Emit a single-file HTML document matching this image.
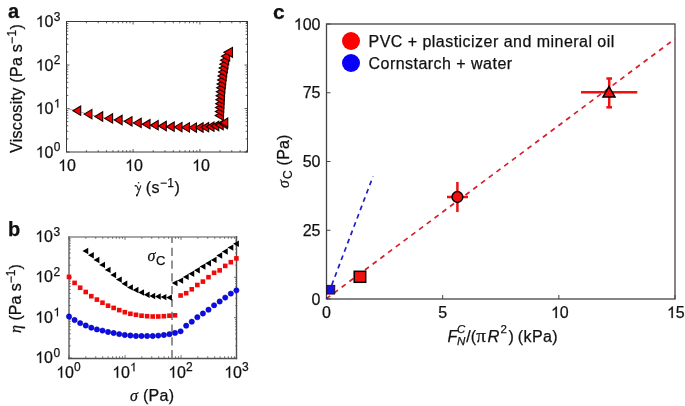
<!DOCTYPE html>
<html><head><meta charset="utf-8"><style>
html,body{margin:0;padding:0;background:#fff;}
svg{display:block;will-change:transform;}
svg{font-family:"Liberation Sans", sans-serif;fill:#111;} text{stroke:#111;stroke-width:0.25px;}
</style></head><body>
<svg width="685" height="406" viewBox="0 0 685 406">
<rect x="66.5" y="21.5" width="181.0" height="130.5" fill="none" stroke="#383838" stroke-width="1.0"/>
<line x1="66.5" y1="152.00" x2="69.5" y2="152.00" stroke="#333" stroke-width="0.8"/>
<line x1="247.5" y1="152.00" x2="244.5" y2="152.00" stroke="#333" stroke-width="0.8"/>
<line x1="66.5" y1="138.91" x2="68.3" y2="138.91" stroke="#333" stroke-width="0.8"/>
<line x1="247.5" y1="138.91" x2="245.7" y2="138.91" stroke="#333" stroke-width="0.8"/>
<line x1="66.5" y1="131.25" x2="68.3" y2="131.25" stroke="#333" stroke-width="0.8"/>
<line x1="247.5" y1="131.25" x2="245.7" y2="131.25" stroke="#333" stroke-width="0.8"/>
<line x1="66.5" y1="125.81" x2="68.3" y2="125.81" stroke="#333" stroke-width="0.8"/>
<line x1="247.5" y1="125.81" x2="245.7" y2="125.81" stroke="#333" stroke-width="0.8"/>
<line x1="66.5" y1="121.59" x2="68.3" y2="121.59" stroke="#333" stroke-width="0.8"/>
<line x1="247.5" y1="121.59" x2="245.7" y2="121.59" stroke="#333" stroke-width="0.8"/>
<line x1="66.5" y1="118.15" x2="68.3" y2="118.15" stroke="#333" stroke-width="0.8"/>
<line x1="247.5" y1="118.15" x2="245.7" y2="118.15" stroke="#333" stroke-width="0.8"/>
<line x1="66.5" y1="115.24" x2="68.3" y2="115.24" stroke="#333" stroke-width="0.8"/>
<line x1="247.5" y1="115.24" x2="245.7" y2="115.24" stroke="#333" stroke-width="0.8"/>
<line x1="66.5" y1="112.72" x2="68.3" y2="112.72" stroke="#333" stroke-width="0.8"/>
<line x1="247.5" y1="112.72" x2="245.7" y2="112.72" stroke="#333" stroke-width="0.8"/>
<line x1="66.5" y1="110.49" x2="68.3" y2="110.49" stroke="#333" stroke-width="0.8"/>
<line x1="247.5" y1="110.49" x2="245.7" y2="110.49" stroke="#333" stroke-width="0.8"/>
<line x1="66.5" y1="108.50" x2="69.5" y2="108.50" stroke="#333" stroke-width="0.8"/>
<line x1="247.5" y1="108.50" x2="244.5" y2="108.50" stroke="#333" stroke-width="0.8"/>
<line x1="66.5" y1="95.41" x2="68.3" y2="95.41" stroke="#333" stroke-width="0.8"/>
<line x1="247.5" y1="95.41" x2="245.7" y2="95.41" stroke="#333" stroke-width="0.8"/>
<line x1="66.5" y1="87.75" x2="68.3" y2="87.75" stroke="#333" stroke-width="0.8"/>
<line x1="247.5" y1="87.75" x2="245.7" y2="87.75" stroke="#333" stroke-width="0.8"/>
<line x1="66.5" y1="82.31" x2="68.3" y2="82.31" stroke="#333" stroke-width="0.8"/>
<line x1="247.5" y1="82.31" x2="245.7" y2="82.31" stroke="#333" stroke-width="0.8"/>
<line x1="66.5" y1="78.09" x2="68.3" y2="78.09" stroke="#333" stroke-width="0.8"/>
<line x1="247.5" y1="78.09" x2="245.7" y2="78.09" stroke="#333" stroke-width="0.8"/>
<line x1="66.5" y1="74.65" x2="68.3" y2="74.65" stroke="#333" stroke-width="0.8"/>
<line x1="247.5" y1="74.65" x2="245.7" y2="74.65" stroke="#333" stroke-width="0.8"/>
<line x1="66.5" y1="71.74" x2="68.3" y2="71.74" stroke="#333" stroke-width="0.8"/>
<line x1="247.5" y1="71.74" x2="245.7" y2="71.74" stroke="#333" stroke-width="0.8"/>
<line x1="66.5" y1="69.22" x2="68.3" y2="69.22" stroke="#333" stroke-width="0.8"/>
<line x1="247.5" y1="69.22" x2="245.7" y2="69.22" stroke="#333" stroke-width="0.8"/>
<line x1="66.5" y1="66.99" x2="68.3" y2="66.99" stroke="#333" stroke-width="0.8"/>
<line x1="247.5" y1="66.99" x2="245.7" y2="66.99" stroke="#333" stroke-width="0.8"/>
<line x1="66.5" y1="65.00" x2="69.5" y2="65.00" stroke="#333" stroke-width="0.8"/>
<line x1="247.5" y1="65.00" x2="244.5" y2="65.00" stroke="#333" stroke-width="0.8"/>
<line x1="66.5" y1="51.91" x2="68.3" y2="51.91" stroke="#333" stroke-width="0.8"/>
<line x1="247.5" y1="51.91" x2="245.7" y2="51.91" stroke="#333" stroke-width="0.8"/>
<line x1="66.5" y1="44.25" x2="68.3" y2="44.25" stroke="#333" stroke-width="0.8"/>
<line x1="247.5" y1="44.25" x2="245.7" y2="44.25" stroke="#333" stroke-width="0.8"/>
<line x1="66.5" y1="38.81" x2="68.3" y2="38.81" stroke="#333" stroke-width="0.8"/>
<line x1="247.5" y1="38.81" x2="245.7" y2="38.81" stroke="#333" stroke-width="0.8"/>
<line x1="66.5" y1="34.59" x2="68.3" y2="34.59" stroke="#333" stroke-width="0.8"/>
<line x1="247.5" y1="34.59" x2="245.7" y2="34.59" stroke="#333" stroke-width="0.8"/>
<line x1="66.5" y1="31.15" x2="68.3" y2="31.15" stroke="#333" stroke-width="0.8"/>
<line x1="247.5" y1="31.15" x2="245.7" y2="31.15" stroke="#333" stroke-width="0.8"/>
<line x1="66.5" y1="28.24" x2="68.3" y2="28.24" stroke="#333" stroke-width="0.8"/>
<line x1="247.5" y1="28.24" x2="245.7" y2="28.24" stroke="#333" stroke-width="0.8"/>
<line x1="66.5" y1="25.72" x2="68.3" y2="25.72" stroke="#333" stroke-width="0.8"/>
<line x1="247.5" y1="25.72" x2="245.7" y2="25.72" stroke="#333" stroke-width="0.8"/>
<line x1="66.5" y1="23.49" x2="68.3" y2="23.49" stroke="#333" stroke-width="0.8"/>
<line x1="247.5" y1="23.49" x2="245.7" y2="23.49" stroke="#333" stroke-width="0.8"/>
<line x1="86.41" y1="152" x2="86.41" y2="150.2" stroke="#333" stroke-width="0.8"/>
<line x1="86.41" y1="21.5" x2="86.41" y2="23.3" stroke="#333" stroke-width="0.8"/>
<line x1="98.17" y1="152" x2="98.17" y2="150.2" stroke="#333" stroke-width="0.8"/>
<line x1="98.17" y1="21.5" x2="98.17" y2="23.3" stroke="#333" stroke-width="0.8"/>
<line x1="106.52" y1="152" x2="106.52" y2="150.2" stroke="#333" stroke-width="0.8"/>
<line x1="106.52" y1="21.5" x2="106.52" y2="23.3" stroke="#333" stroke-width="0.8"/>
<line x1="112.99" y1="152" x2="112.99" y2="150.2" stroke="#333" stroke-width="0.8"/>
<line x1="112.99" y1="21.5" x2="112.99" y2="23.3" stroke="#333" stroke-width="0.8"/>
<line x1="118.28" y1="152" x2="118.28" y2="150.2" stroke="#333" stroke-width="0.8"/>
<line x1="118.28" y1="21.5" x2="118.28" y2="23.3" stroke="#333" stroke-width="0.8"/>
<line x1="122.75" y1="152" x2="122.75" y2="150.2" stroke="#333" stroke-width="0.8"/>
<line x1="122.75" y1="21.5" x2="122.75" y2="23.3" stroke="#333" stroke-width="0.8"/>
<line x1="126.63" y1="152" x2="126.63" y2="150.2" stroke="#333" stroke-width="0.8"/>
<line x1="126.63" y1="21.5" x2="126.63" y2="23.3" stroke="#333" stroke-width="0.8"/>
<line x1="130.04" y1="152" x2="130.04" y2="150.2" stroke="#333" stroke-width="0.8"/>
<line x1="130.04" y1="21.5" x2="130.04" y2="23.3" stroke="#333" stroke-width="0.8"/>
<line x1="133.10" y1="152" x2="133.10" y2="149" stroke="#333" stroke-width="0.8"/>
<line x1="133.10" y1="21.5" x2="133.10" y2="24.5" stroke="#333" stroke-width="0.8"/>
<line x1="153.21" y1="152" x2="153.21" y2="150.2" stroke="#333" stroke-width="0.8"/>
<line x1="153.21" y1="21.5" x2="153.21" y2="23.3" stroke="#333" stroke-width="0.8"/>
<line x1="164.97" y1="152" x2="164.97" y2="150.2" stroke="#333" stroke-width="0.8"/>
<line x1="164.97" y1="21.5" x2="164.97" y2="23.3" stroke="#333" stroke-width="0.8"/>
<line x1="173.32" y1="152" x2="173.32" y2="150.2" stroke="#333" stroke-width="0.8"/>
<line x1="173.32" y1="21.5" x2="173.32" y2="23.3" stroke="#333" stroke-width="0.8"/>
<line x1="179.79" y1="152" x2="179.79" y2="150.2" stroke="#333" stroke-width="0.8"/>
<line x1="179.79" y1="21.5" x2="179.79" y2="23.3" stroke="#333" stroke-width="0.8"/>
<line x1="185.08" y1="152" x2="185.08" y2="150.2" stroke="#333" stroke-width="0.8"/>
<line x1="185.08" y1="21.5" x2="185.08" y2="23.3" stroke="#333" stroke-width="0.8"/>
<line x1="189.55" y1="152" x2="189.55" y2="150.2" stroke="#333" stroke-width="0.8"/>
<line x1="189.55" y1="21.5" x2="189.55" y2="23.3" stroke="#333" stroke-width="0.8"/>
<line x1="193.43" y1="152" x2="193.43" y2="150.2" stroke="#333" stroke-width="0.8"/>
<line x1="193.43" y1="21.5" x2="193.43" y2="23.3" stroke="#333" stroke-width="0.8"/>
<line x1="196.84" y1="152" x2="196.84" y2="150.2" stroke="#333" stroke-width="0.8"/>
<line x1="196.84" y1="21.5" x2="196.84" y2="23.3" stroke="#333" stroke-width="0.8"/>
<line x1="199.90" y1="152" x2="199.90" y2="149" stroke="#333" stroke-width="0.8"/>
<line x1="199.90" y1="21.5" x2="199.90" y2="24.5" stroke="#333" stroke-width="0.8"/>
<line x1="220.01" y1="152" x2="220.01" y2="150.2" stroke="#333" stroke-width="0.8"/>
<line x1="220.01" y1="21.5" x2="220.01" y2="23.3" stroke="#333" stroke-width="0.8"/>
<line x1="231.77" y1="152" x2="231.77" y2="150.2" stroke="#333" stroke-width="0.8"/>
<line x1="231.77" y1="21.5" x2="231.77" y2="23.3" stroke="#333" stroke-width="0.8"/>
<line x1="240.12" y1="152" x2="240.12" y2="150.2" stroke="#333" stroke-width="0.8"/>
<line x1="240.12" y1="21.5" x2="240.12" y2="23.3" stroke="#333" stroke-width="0.8"/>
<line x1="246.59" y1="152" x2="246.59" y2="150.2" stroke="#333" stroke-width="0.8"/>
<line x1="246.59" y1="21.5" x2="246.59" y2="23.3" stroke="#333" stroke-width="0.8"/>
<path d="M41.67,157.60L40.26,157.60L40.26,148.64C39.93,148.96 39.48,149.30 38.92,149.62C38.36,149.95 37.86,150.19 37.45,150.35L37.45,148.99C38.22,148.64 38.89,148.21 39.46,147.71C40.04,147.20 40.46,146.69 40.70,146.14L41.67,146.14Z" fill="#111" stroke="#111" stroke-width="0.2"/>
<text x="44.60" y="157.60" font-size="16">0</text>
<text x="53.80" y="151.00" font-size="12">0</text>
<path d="M41.67,114.10L40.26,114.10L40.26,105.14C39.93,105.46 39.48,105.80 38.92,106.12C38.36,106.45 37.86,106.69 37.45,106.85L37.45,105.49C38.22,105.14 38.89,104.71 39.46,104.21C40.04,103.70 40.46,103.19 40.70,102.64L41.67,102.64Z" fill="#111" stroke="#111" stroke-width="0.2"/>
<text x="44.60" y="114.10" font-size="16">0</text>
<path d="M58.28,107.50L57.22,107.50L57.22,100.78C56.97,101.02 56.63,101.27 56.21,101.51C55.79,101.76 55.42,101.94 55.11,102.06L55.11,101.04C55.68,100.78 56.19,100.46 56.62,100.08C57.05,99.70 57.36,99.32 57.54,98.91L58.28,98.91Z" fill="#111" stroke="#111" stroke-width="0.2"/>
<path d="M41.67,70.60L40.26,70.60L40.26,61.64C39.93,61.96 39.48,62.30 38.92,62.62C38.36,62.95 37.86,63.19 37.45,63.35L37.45,61.99C38.22,61.64 38.89,61.21 39.46,60.71C40.04,60.20 40.46,59.69 40.70,59.14L41.67,59.14Z" fill="#111" stroke="#111" stroke-width="0.2"/>
<text x="44.60" y="70.60" font-size="16">0</text>
<text x="53.80" y="64.00" font-size="12">2</text>
<path d="M41.67,27.10L40.26,27.10L40.26,18.14C39.93,18.46 39.48,18.80 38.92,19.12C38.36,19.45 37.86,19.69 37.45,19.85L37.45,18.49C38.22,18.14 38.89,17.71 39.46,17.21C40.04,16.70 40.46,16.19 40.70,15.64L41.67,15.64Z" fill="#111" stroke="#111" stroke-width="0.2"/>
<text x="44.60" y="27.10" font-size="16">0</text>
<text x="53.80" y="20.50" font-size="12">3</text>
<path d="M64.07,171.00L62.66,171.00L62.66,162.04C62.33,162.36 61.88,162.70 61.32,163.02C60.76,163.35 60.26,163.59 59.85,163.75L59.85,162.39C60.61,162.04 61.29,161.61 61.86,161.11C62.44,160.60 62.85,160.09 63.09,159.54L64.07,159.54Z" fill="#111" stroke="#111" stroke-width="0.2"/>
<text x="67.00" y="171.00" font-size="16">0</text>
<path d="M131.07,171.00L129.66,171.00L129.66,162.04C129.33,162.36 128.88,162.70 128.32,163.02C127.76,163.35 127.26,163.59 126.85,163.75L126.85,162.39C127.61,162.04 128.29,161.61 128.86,161.11C129.44,160.60 129.85,160.09 130.09,159.54L131.07,159.54Z" fill="#111" stroke="#111" stroke-width="0.2"/>
<text x="134.00" y="171.00" font-size="16">0</text>
<path d="M198.07,171.00L196.66,171.00L196.66,162.04C196.33,162.36 195.88,162.70 195.32,163.02C194.76,163.35 194.26,163.59 193.85,163.75L193.85,162.39C194.61,162.04 195.29,161.61 195.86,161.11C196.44,160.60 196.85,160.09 197.09,159.54L198.07,159.54Z" fill="#111" stroke="#111" stroke-width="0.2"/>
<text x="201.00" y="171.00" font-size="16">0</text>
<text x="8" y="18" font-size="20" font-weight="bold">a</text>
<text transform="translate(21.5,153) rotate(-90)" font-size="16" letter-spacing="0.3">Viscosity (Pa s<tspan font-size="12" dy="-6">−1</tspan><tspan dy="6">)</tspan></text>
<path d="M134.9,186.4 Q135.6,185.2 136.6,185.9 Q137.6,186.8 138.4,190.0" fill="none" stroke="#111" stroke-width="1.15"/>
<path d="M140.9,185.3 Q139.6,189.5 137.2,195.2" fill="none" stroke="#111" stroke-width="1.05"/>
<ellipse cx="136.9" cy="195.3" rx="0.8" ry="1.2" fill="#111"/>
<circle cx="138.6" cy="182.8" r="0.8" fill="#111"/>
<text x="145.8" y="193.3" font-size="16" letter-spacing="0.4">(s<tspan font-size="12" dy="-6">−1</tspan><tspan dy="6">)</tspan></text>
<polyline points="66.5,108.5 76.2,110.7 87.3,114.1 98.2,116.5 108.0,118.4 117.5,120.0 127.5,121.3 136.7,122.9 145.4,124.2 153.7,125.2 161.8,126.0 169.7,126.7 177.4,127.1 184.9,127.4 191.9,127.6 198.6,127.5 204.2,127.2 209.4,126.7 214.2,126.0 218.7,125.0 222.8,124.0" fill="none" stroke="#888" stroke-width="0.7"/>
<path d="M72.90,110.70 L80.70,106.00 L80.70,115.40Z" fill="#f20000" stroke="#1a0000" stroke-width="1.1"/>
<path d="M84.10,114.10 L91.90,109.40 L91.90,118.80Z" fill="#f20000" stroke="#1a0000" stroke-width="1.1"/>
<path d="M94.90,116.50 L102.70,111.80 L102.70,121.20Z" fill="#f20000" stroke="#1a0000" stroke-width="1.1"/>
<path d="M104.80,118.40 L112.60,113.70 L112.60,123.10Z" fill="#f20000" stroke="#1a0000" stroke-width="1.1"/>
<path d="M114.30,120.00 L122.10,115.30 L122.10,124.70Z" fill="#f20000" stroke="#1a0000" stroke-width="1.1"/>
<path d="M124.20,121.30 L132.00,116.60 L132.00,126.00Z" fill="#f20000" stroke="#1a0000" stroke-width="1.1"/>
<path d="M133.40,122.90 L141.20,118.20 L141.20,127.60Z" fill="#f20000" stroke="#1a0000" stroke-width="1.1"/>
<path d="M142.20,124.20 L150.00,119.50 L150.00,128.90Z" fill="#f20000" stroke="#1a0000" stroke-width="1.1"/>
<path d="M150.40,125.20 L158.20,120.50 L158.20,129.90Z" fill="#f20000" stroke="#1a0000" stroke-width="1.1"/>
<path d="M158.50,126.00 L166.30,121.30 L166.30,130.70Z" fill="#f20000" stroke="#1a0000" stroke-width="1.1"/>
<path d="M166.40,126.70 L174.20,122.00 L174.20,131.40Z" fill="#f20000" stroke="#1a0000" stroke-width="1.1"/>
<path d="M174.20,127.10 L182.00,122.40 L182.00,131.80Z" fill="#f20000" stroke="#1a0000" stroke-width="1.1"/>
<path d="M181.70,127.40 L189.50,122.70 L189.50,132.10Z" fill="#f20000" stroke="#1a0000" stroke-width="1.1"/>
<path d="M188.70,127.60 L196.50,122.90 L196.50,132.30Z" fill="#f20000" stroke="#1a0000" stroke-width="1.1"/>
<path d="M195.30,127.50 L203.10,122.80 L203.10,132.20Z" fill="#f20000" stroke="#1a0000" stroke-width="1.1"/>
<path d="M200.90,127.20 L208.70,122.50 L208.70,131.90Z" fill="#f20000" stroke="#1a0000" stroke-width="1.1"/>
<path d="M206.20,126.70 L214.00,122.00 L214.00,131.40Z" fill="#f20000" stroke="#1a0000" stroke-width="1.1"/>
<path d="M211.00,126.00 L218.80,121.30 L218.80,130.70Z" fill="#f20000" stroke="#1a0000" stroke-width="1.1"/>
<path d="M215.40,125.00 L223.20,120.30 L223.20,129.70Z" fill="#f20000" stroke="#1a0000" stroke-width="1.1"/>
<path d="M219.60,124.00 L227.40,119.30 L227.40,128.70Z" fill="#f20000" stroke="#1a0000" stroke-width="1.1"/>
<path d="M215.20,115.50 L223.40,110.80 L223.40,120.20Z" fill="#f20000" stroke="#1a0000" stroke-width="1.1"/>
<path d="M215.35,111.55 L223.55,106.85 L223.55,116.25Z" fill="#f20000" stroke="#1a0000" stroke-width="1.1"/>
<path d="M215.50,107.60 L223.70,102.90 L223.70,112.30Z" fill="#f20000" stroke="#1a0000" stroke-width="1.1"/>
<path d="M215.66,103.65 L223.86,98.95 L223.86,108.35Z" fill="#f20000" stroke="#1a0000" stroke-width="1.1"/>
<path d="M215.82,99.70 L224.02,95.00 L224.02,104.40Z" fill="#f20000" stroke="#1a0000" stroke-width="1.1"/>
<path d="M216.09,95.75 L224.29,91.05 L224.29,100.45Z" fill="#f20000" stroke="#1a0000" stroke-width="1.1"/>
<path d="M216.37,91.80 L224.57,87.10 L224.57,96.50Z" fill="#f20000" stroke="#1a0000" stroke-width="1.1"/>
<path d="M216.64,87.85 L224.84,83.15 L224.84,92.55Z" fill="#f20000" stroke="#1a0000" stroke-width="1.1"/>
<path d="M217.06,83.90 L225.26,79.20 L225.26,88.60Z" fill="#f20000" stroke="#1a0000" stroke-width="1.1"/>
<path d="M217.52,79.95 L225.72,75.25 L225.72,84.65Z" fill="#f20000" stroke="#1a0000" stroke-width="1.1"/>
<path d="M217.98,76.00 L226.18,71.30 L226.18,80.70Z" fill="#f20000" stroke="#1a0000" stroke-width="1.1"/>
<path d="M218.51,72.05 L226.71,67.35 L226.71,76.75Z" fill="#f20000" stroke="#1a0000" stroke-width="1.1"/>
<path d="M219.12,68.10 L227.32,63.40 L227.32,72.80Z" fill="#f20000" stroke="#1a0000" stroke-width="1.1"/>
<path d="M219.79,64.15 L227.99,59.45 L227.99,68.85Z" fill="#f20000" stroke="#1a0000" stroke-width="1.1"/>
<path d="M220.47,60.20 L228.67,55.50 L228.67,64.90Z" fill="#f20000" stroke="#1a0000" stroke-width="1.1"/>
<path d="M221.48,56.25 L229.68,51.55 L229.68,60.95Z" fill="#f20000" stroke="#1a0000" stroke-width="1.1"/>
<path d="M223.90,52.30 L232.50,47.40 L232.50,57.20Z" fill="#f20000" stroke="#1a0000" stroke-width="1.1"/>
<path d="M220.25,122.70 L227.75,118.10 L227.75,127.30Z" fill="#f20000" stroke="#1a0000" stroke-width="1.1"/>
<line x1="69" y1="236.1" x2="69" y2="359.2" stroke="#8a8a8a" stroke-width="1.9"/>
<line x1="68" y1="236.9" x2="237.2" y2="236.9" stroke="#8a8a8a" stroke-width="1.5"/>
<line x1="236.5" y1="236.1" x2="236.5" y2="359.2" stroke="#505050" stroke-width="1.4"/>
<line x1="68" y1="358.5" x2="237.2" y2="358.5" stroke="#505050" stroke-width="1.4"/>
<line x1="69.00" y1="358.0" x2="69.00" y2="355.0" stroke="#555" stroke-width="0.8"/>
<line x1="69.00" y1="237.0" x2="69.00" y2="240.0" stroke="#555" stroke-width="0.8"/>
<line x1="69.0" y1="358.00" x2="72.0" y2="358.00" stroke="#555" stroke-width="0.8"/>
<line x1="237.0" y1="358.00" x2="234.0" y2="358.00" stroke="#555" stroke-width="0.8"/>
<line x1="85.86" y1="358.0" x2="85.86" y2="356.2" stroke="#555" stroke-width="0.8"/>
<line x1="85.86" y1="237.0" x2="85.86" y2="238.8" stroke="#555" stroke-width="0.8"/>
<line x1="69.0" y1="345.86" x2="70.8" y2="345.86" stroke="#555" stroke-width="0.8"/>
<line x1="237.0" y1="345.86" x2="235.2" y2="345.86" stroke="#555" stroke-width="0.8"/>
<line x1="95.72" y1="358.0" x2="95.72" y2="356.2" stroke="#555" stroke-width="0.8"/>
<line x1="95.72" y1="237.0" x2="95.72" y2="238.8" stroke="#555" stroke-width="0.8"/>
<line x1="69.0" y1="338.76" x2="70.8" y2="338.76" stroke="#555" stroke-width="0.8"/>
<line x1="237.0" y1="338.76" x2="235.2" y2="338.76" stroke="#555" stroke-width="0.8"/>
<line x1="102.72" y1="358.0" x2="102.72" y2="356.2" stroke="#555" stroke-width="0.8"/>
<line x1="102.72" y1="237.0" x2="102.72" y2="238.8" stroke="#555" stroke-width="0.8"/>
<line x1="69.0" y1="333.72" x2="70.8" y2="333.72" stroke="#555" stroke-width="0.8"/>
<line x1="237.0" y1="333.72" x2="235.2" y2="333.72" stroke="#555" stroke-width="0.8"/>
<line x1="108.14" y1="358.0" x2="108.14" y2="356.2" stroke="#555" stroke-width="0.8"/>
<line x1="108.14" y1="237.0" x2="108.14" y2="238.8" stroke="#555" stroke-width="0.8"/>
<line x1="69.0" y1="329.81" x2="70.8" y2="329.81" stroke="#555" stroke-width="0.8"/>
<line x1="237.0" y1="329.81" x2="235.2" y2="329.81" stroke="#555" stroke-width="0.8"/>
<line x1="112.58" y1="358.0" x2="112.58" y2="356.2" stroke="#555" stroke-width="0.8"/>
<line x1="112.58" y1="237.0" x2="112.58" y2="238.8" stroke="#555" stroke-width="0.8"/>
<line x1="69.0" y1="326.61" x2="70.8" y2="326.61" stroke="#555" stroke-width="0.8"/>
<line x1="237.0" y1="326.61" x2="235.2" y2="326.61" stroke="#555" stroke-width="0.8"/>
<line x1="116.33" y1="358.0" x2="116.33" y2="356.2" stroke="#555" stroke-width="0.8"/>
<line x1="116.33" y1="237.0" x2="116.33" y2="238.8" stroke="#555" stroke-width="0.8"/>
<line x1="69.0" y1="323.91" x2="70.8" y2="323.91" stroke="#555" stroke-width="0.8"/>
<line x1="237.0" y1="323.91" x2="235.2" y2="323.91" stroke="#555" stroke-width="0.8"/>
<line x1="119.57" y1="358.0" x2="119.57" y2="356.2" stroke="#555" stroke-width="0.8"/>
<line x1="119.57" y1="237.0" x2="119.57" y2="238.8" stroke="#555" stroke-width="0.8"/>
<line x1="69.0" y1="321.58" x2="70.8" y2="321.58" stroke="#555" stroke-width="0.8"/>
<line x1="237.0" y1="321.58" x2="235.2" y2="321.58" stroke="#555" stroke-width="0.8"/>
<line x1="122.44" y1="358.0" x2="122.44" y2="356.2" stroke="#555" stroke-width="0.8"/>
<line x1="122.44" y1="237.0" x2="122.44" y2="238.8" stroke="#555" stroke-width="0.8"/>
<line x1="69.0" y1="319.51" x2="70.8" y2="319.51" stroke="#555" stroke-width="0.8"/>
<line x1="237.0" y1="319.51" x2="235.2" y2="319.51" stroke="#555" stroke-width="0.8"/>
<line x1="125.00" y1="358.0" x2="125.00" y2="355.0" stroke="#555" stroke-width="0.8"/>
<line x1="125.00" y1="237.0" x2="125.00" y2="240.0" stroke="#555" stroke-width="0.8"/>
<line x1="69.0" y1="317.67" x2="72.0" y2="317.67" stroke="#555" stroke-width="0.8"/>
<line x1="237.0" y1="317.67" x2="234.0" y2="317.67" stroke="#555" stroke-width="0.8"/>
<line x1="141.86" y1="358.0" x2="141.86" y2="356.2" stroke="#555" stroke-width="0.8"/>
<line x1="141.86" y1="237.0" x2="141.86" y2="238.8" stroke="#555" stroke-width="0.8"/>
<line x1="69.0" y1="305.53" x2="70.8" y2="305.53" stroke="#555" stroke-width="0.8"/>
<line x1="237.0" y1="305.53" x2="235.2" y2="305.53" stroke="#555" stroke-width="0.8"/>
<line x1="151.72" y1="358.0" x2="151.72" y2="356.2" stroke="#555" stroke-width="0.8"/>
<line x1="151.72" y1="237.0" x2="151.72" y2="238.8" stroke="#555" stroke-width="0.8"/>
<line x1="69.0" y1="298.42" x2="70.8" y2="298.42" stroke="#555" stroke-width="0.8"/>
<line x1="237.0" y1="298.42" x2="235.2" y2="298.42" stroke="#555" stroke-width="0.8"/>
<line x1="158.72" y1="358.0" x2="158.72" y2="356.2" stroke="#555" stroke-width="0.8"/>
<line x1="158.72" y1="237.0" x2="158.72" y2="238.8" stroke="#555" stroke-width="0.8"/>
<line x1="69.0" y1="293.38" x2="70.8" y2="293.38" stroke="#555" stroke-width="0.8"/>
<line x1="237.0" y1="293.38" x2="235.2" y2="293.38" stroke="#555" stroke-width="0.8"/>
<line x1="164.14" y1="358.0" x2="164.14" y2="356.2" stroke="#555" stroke-width="0.8"/>
<line x1="164.14" y1="237.0" x2="164.14" y2="238.8" stroke="#555" stroke-width="0.8"/>
<line x1="69.0" y1="289.47" x2="70.8" y2="289.47" stroke="#555" stroke-width="0.8"/>
<line x1="237.0" y1="289.47" x2="235.2" y2="289.47" stroke="#555" stroke-width="0.8"/>
<line x1="168.58" y1="358.0" x2="168.58" y2="356.2" stroke="#555" stroke-width="0.8"/>
<line x1="168.58" y1="237.0" x2="168.58" y2="238.8" stroke="#555" stroke-width="0.8"/>
<line x1="69.0" y1="286.28" x2="70.8" y2="286.28" stroke="#555" stroke-width="0.8"/>
<line x1="237.0" y1="286.28" x2="235.2" y2="286.28" stroke="#555" stroke-width="0.8"/>
<line x1="172.33" y1="358.0" x2="172.33" y2="356.2" stroke="#555" stroke-width="0.8"/>
<line x1="172.33" y1="237.0" x2="172.33" y2="238.8" stroke="#555" stroke-width="0.8"/>
<line x1="69.0" y1="283.58" x2="70.8" y2="283.58" stroke="#555" stroke-width="0.8"/>
<line x1="237.0" y1="283.58" x2="235.2" y2="283.58" stroke="#555" stroke-width="0.8"/>
<line x1="175.57" y1="358.0" x2="175.57" y2="356.2" stroke="#555" stroke-width="0.8"/>
<line x1="175.57" y1="237.0" x2="175.57" y2="238.8" stroke="#555" stroke-width="0.8"/>
<line x1="69.0" y1="281.24" x2="70.8" y2="281.24" stroke="#555" stroke-width="0.8"/>
<line x1="237.0" y1="281.24" x2="235.2" y2="281.24" stroke="#555" stroke-width="0.8"/>
<line x1="178.44" y1="358.0" x2="178.44" y2="356.2" stroke="#555" stroke-width="0.8"/>
<line x1="178.44" y1="237.0" x2="178.44" y2="238.8" stroke="#555" stroke-width="0.8"/>
<line x1="69.0" y1="279.18" x2="70.8" y2="279.18" stroke="#555" stroke-width="0.8"/>
<line x1="237.0" y1="279.18" x2="235.2" y2="279.18" stroke="#555" stroke-width="0.8"/>
<line x1="181.00" y1="358.0" x2="181.00" y2="355.0" stroke="#555" stroke-width="0.8"/>
<line x1="181.00" y1="237.0" x2="181.00" y2="240.0" stroke="#555" stroke-width="0.8"/>
<line x1="69.0" y1="277.33" x2="72.0" y2="277.33" stroke="#555" stroke-width="0.8"/>
<line x1="237.0" y1="277.33" x2="234.0" y2="277.33" stroke="#555" stroke-width="0.8"/>
<line x1="197.86" y1="358.0" x2="197.86" y2="356.2" stroke="#555" stroke-width="0.8"/>
<line x1="197.86" y1="237.0" x2="197.86" y2="238.8" stroke="#555" stroke-width="0.8"/>
<line x1="69.0" y1="265.19" x2="70.8" y2="265.19" stroke="#555" stroke-width="0.8"/>
<line x1="237.0" y1="265.19" x2="235.2" y2="265.19" stroke="#555" stroke-width="0.8"/>
<line x1="207.72" y1="358.0" x2="207.72" y2="356.2" stroke="#555" stroke-width="0.8"/>
<line x1="207.72" y1="237.0" x2="207.72" y2="238.8" stroke="#555" stroke-width="0.8"/>
<line x1="69.0" y1="258.09" x2="70.8" y2="258.09" stroke="#555" stroke-width="0.8"/>
<line x1="237.0" y1="258.09" x2="235.2" y2="258.09" stroke="#555" stroke-width="0.8"/>
<line x1="214.72" y1="358.0" x2="214.72" y2="356.2" stroke="#555" stroke-width="0.8"/>
<line x1="214.72" y1="237.0" x2="214.72" y2="238.8" stroke="#555" stroke-width="0.8"/>
<line x1="69.0" y1="253.05" x2="70.8" y2="253.05" stroke="#555" stroke-width="0.8"/>
<line x1="237.0" y1="253.05" x2="235.2" y2="253.05" stroke="#555" stroke-width="0.8"/>
<line x1="220.14" y1="358.0" x2="220.14" y2="356.2" stroke="#555" stroke-width="0.8"/>
<line x1="220.14" y1="237.0" x2="220.14" y2="238.8" stroke="#555" stroke-width="0.8"/>
<line x1="69.0" y1="249.14" x2="70.8" y2="249.14" stroke="#555" stroke-width="0.8"/>
<line x1="237.0" y1="249.14" x2="235.2" y2="249.14" stroke="#555" stroke-width="0.8"/>
<line x1="224.58" y1="358.0" x2="224.58" y2="356.2" stroke="#555" stroke-width="0.8"/>
<line x1="224.58" y1="237.0" x2="224.58" y2="238.8" stroke="#555" stroke-width="0.8"/>
<line x1="69.0" y1="245.95" x2="70.8" y2="245.95" stroke="#555" stroke-width="0.8"/>
<line x1="237.0" y1="245.95" x2="235.2" y2="245.95" stroke="#555" stroke-width="0.8"/>
<line x1="228.33" y1="358.0" x2="228.33" y2="356.2" stroke="#555" stroke-width="0.8"/>
<line x1="228.33" y1="237.0" x2="228.33" y2="238.8" stroke="#555" stroke-width="0.8"/>
<line x1="69.0" y1="243.25" x2="70.8" y2="243.25" stroke="#555" stroke-width="0.8"/>
<line x1="237.0" y1="243.25" x2="235.2" y2="243.25" stroke="#555" stroke-width="0.8"/>
<line x1="231.57" y1="358.0" x2="231.57" y2="356.2" stroke="#555" stroke-width="0.8"/>
<line x1="231.57" y1="237.0" x2="231.57" y2="238.8" stroke="#555" stroke-width="0.8"/>
<line x1="69.0" y1="240.91" x2="70.8" y2="240.91" stroke="#555" stroke-width="0.8"/>
<line x1="237.0" y1="240.91" x2="235.2" y2="240.91" stroke="#555" stroke-width="0.8"/>
<line x1="234.44" y1="358.0" x2="234.44" y2="356.2" stroke="#555" stroke-width="0.8"/>
<line x1="234.44" y1="237.0" x2="234.44" y2="238.8" stroke="#555" stroke-width="0.8"/>
<line x1="69.0" y1="238.85" x2="70.8" y2="238.85" stroke="#555" stroke-width="0.8"/>
<line x1="237.0" y1="238.85" x2="235.2" y2="238.85" stroke="#555" stroke-width="0.8"/>
<path d="M41.17,363.00L39.76,363.00L39.76,354.04C39.43,354.36 38.98,354.70 38.42,355.02C37.86,355.35 37.36,355.59 36.95,355.75L36.95,354.39C37.72,354.04 38.39,353.61 38.96,353.11C39.54,352.60 39.96,352.09 40.20,351.54L41.17,351.54Z" fill="#111" stroke="#111" stroke-width="0.2"/>
<text x="44.10" y="363.00" font-size="16">0</text>
<text x="53.50" y="356.60" font-size="12">0</text>
<path d="M62.17,377.80L60.76,377.80L60.76,368.84C60.42,369.16 59.98,369.50 59.42,369.82C58.86,370.15 58.36,370.39 57.94,370.55L57.94,369.19C58.71,368.84 59.38,368.41 59.96,367.91C60.54,367.40 60.95,366.89 61.19,366.34L62.17,366.34Z" fill="#111" stroke="#111" stroke-width="0.2"/>
<text x="65.10" y="377.80" font-size="16">0</text>
<text x="74.00" y="371.30" font-size="12">0</text>
<path d="M41.17,322.67L39.76,322.67L39.76,313.71C39.43,314.03 38.98,314.36 38.42,314.68C37.86,315.02 37.36,315.26 36.95,315.42L36.95,314.06C37.72,313.71 38.39,313.27 38.96,312.78C39.54,312.27 39.96,311.75 40.20,311.21L41.17,311.21Z" fill="#111" stroke="#111" stroke-width="0.2"/>
<text x="44.10" y="322.67" font-size="16">0</text>
<path d="M57.98,316.27L56.92,316.27L56.92,309.55C56.67,309.79 56.33,310.04 55.91,310.28C55.49,310.53 55.12,310.71 54.81,310.83L54.81,309.81C55.38,309.55 55.89,309.22 56.32,308.85C56.75,308.47 57.06,308.08 57.24,307.67L57.98,307.67Z" fill="#111" stroke="#111" stroke-width="0.2"/>
<path d="M118.17,377.80L116.76,377.80L116.76,368.84C116.42,369.16 115.98,369.50 115.42,369.82C114.86,370.15 114.36,370.39 113.94,370.55L113.94,369.19C114.71,368.84 115.38,368.41 115.96,367.91C116.54,367.40 116.95,366.89 117.19,366.34L118.17,366.34Z" fill="#111" stroke="#111" stroke-width="0.2"/>
<text x="121.10" y="377.80" font-size="16">0</text>
<path d="M134.47,371.30L133.42,371.30L133.42,364.58C133.16,364.82 132.83,365.07 132.41,365.31C131.99,365.56 131.62,365.74 131.30,365.86L131.30,364.84C131.88,364.58 132.38,364.26 132.82,363.88C133.25,363.50 133.56,363.12 133.74,362.71L134.47,362.71Z" fill="#111" stroke="#111" stroke-width="0.2"/>
<path d="M41.17,282.33L39.76,282.33L39.76,273.37C39.43,273.69 38.98,274.03 38.42,274.35C37.86,274.69 37.36,274.93 36.95,275.09L36.95,273.73C37.72,273.37 38.39,272.94 38.96,272.45C39.54,271.93 39.96,271.42 40.20,270.88L41.17,270.88Z" fill="#111" stroke="#111" stroke-width="0.2"/>
<text x="44.10" y="282.33" font-size="16">0</text>
<text x="53.50" y="275.93" font-size="12">2</text>
<path d="M174.17,377.80L172.76,377.80L172.76,368.84C172.42,369.16 171.98,369.50 171.42,369.82C170.86,370.15 170.36,370.39 169.94,370.55L169.94,369.19C170.71,368.84 171.38,368.41 171.96,367.91C172.54,367.40 172.95,366.89 173.19,366.34L174.17,366.34Z" fill="#111" stroke="#111" stroke-width="0.2"/>
<text x="177.10" y="377.80" font-size="16">0</text>
<text x="186.00" y="371.30" font-size="12">2</text>
<path d="M41.17,242.00L39.76,242.00L39.76,233.04C39.43,233.36 38.98,233.70 38.42,234.02C37.86,234.35 37.36,234.59 36.95,234.75L36.95,233.39C37.72,233.04 38.39,232.61 38.96,232.11C39.54,231.60 39.96,231.09 40.20,230.54L41.17,230.54Z" fill="#111" stroke="#111" stroke-width="0.2"/>
<text x="44.10" y="242.00" font-size="16">0</text>
<text x="53.50" y="235.60" font-size="12">3</text>
<path d="M230.17,377.80L228.76,377.80L228.76,368.84C228.42,369.16 227.98,369.50 227.42,369.82C226.86,370.15 226.36,370.39 225.94,370.55L225.94,369.19C226.71,368.84 227.38,368.41 227.96,367.91C228.54,367.40 228.95,366.89 229.19,366.34L230.17,366.34Z" fill="#111" stroke="#111" stroke-width="0.2"/>
<text x="233.10" y="377.80" font-size="16">0</text>
<text x="242.00" y="371.30" font-size="12">3</text>
<text x="8" y="235.5" font-size="20" font-weight="bold">b</text>
<text transform="translate(21,333) rotate(-90)" font-size="16"><tspan font-family='"Liberation Serif", serif' font-style="italic">η</tspan> (Pa s<tspan font-size="12" dy="-6">−1</tspan><tspan dy="6">)</tspan></text>
<text x="130" y="400.8" font-size="16" letter-spacing="0.3"><tspan font-family='"Liberation Serif", serif' font-style="italic">σ</tspan> (Pa)</text>
<line x1="172" y1="237.0" x2="172" y2="358.0" stroke="#888" stroke-width="1.8" stroke-dasharray="8.2,4.6" stroke-dashoffset="2.1"/>
<text x="147.5" y="260.5" font-size="16" font-family='"Liberation Serif", serif' font-style="italic">σ</text>
<text x="156" y="265" font-size="13">C</text>
<circle cx="69.00" cy="316.5" r="2.65" fill="#0c0ce6" stroke="#0000a8" stroke-width="0.5"/>
<circle cx="74.58" cy="320" r="2.65" fill="#0c0ce6" stroke="#0000a8" stroke-width="0.5"/>
<circle cx="80.16" cy="323.1" r="2.65" fill="#0c0ce6" stroke="#0000a8" stroke-width="0.5"/>
<circle cx="85.74" cy="325.5" r="2.65" fill="#0c0ce6" stroke="#0000a8" stroke-width="0.5"/>
<circle cx="91.32" cy="327.7" r="2.65" fill="#0c0ce6" stroke="#0000a8" stroke-width="0.5"/>
<circle cx="96.90" cy="329.4" r="2.65" fill="#0c0ce6" stroke="#0000a8" stroke-width="0.5"/>
<circle cx="102.48" cy="330.6" r="2.65" fill="#0c0ce6" stroke="#0000a8" stroke-width="0.5"/>
<circle cx="108.06" cy="332" r="2.65" fill="#0c0ce6" stroke="#0000a8" stroke-width="0.5"/>
<circle cx="113.64" cy="333" r="2.65" fill="#0c0ce6" stroke="#0000a8" stroke-width="0.5"/>
<circle cx="119.22" cy="334.1" r="2.65" fill="#0c0ce6" stroke="#0000a8" stroke-width="0.5"/>
<circle cx="124.80" cy="335" r="2.65" fill="#0c0ce6" stroke="#0000a8" stroke-width="0.5"/>
<circle cx="130.38" cy="335.5" r="2.65" fill="#0c0ce6" stroke="#0000a8" stroke-width="0.5"/>
<circle cx="135.96" cy="336" r="2.65" fill="#0c0ce6" stroke="#0000a8" stroke-width="0.5"/>
<circle cx="141.54" cy="336" r="2.65" fill="#0c0ce6" stroke="#0000a8" stroke-width="0.5"/>
<circle cx="147.12" cy="336" r="2.65" fill="#0c0ce6" stroke="#0000a8" stroke-width="0.5"/>
<circle cx="152.70" cy="336" r="2.65" fill="#0c0ce6" stroke="#0000a8" stroke-width="0.5"/>
<circle cx="158.28" cy="335.6" r="2.65" fill="#0c0ce6" stroke="#0000a8" stroke-width="0.5"/>
<circle cx="163.86" cy="335" r="2.65" fill="#0c0ce6" stroke="#0000a8" stroke-width="0.5"/>
<circle cx="169.44" cy="334.2" r="2.65" fill="#0c0ce6" stroke="#0000a8" stroke-width="0.5"/>
<circle cx="175.02" cy="332.9" r="2.65" fill="#0c0ce6" stroke="#0000a8" stroke-width="0.5"/>
<circle cx="180.60" cy="331.3" r="2.65" fill="#0c0ce6" stroke="#0000a8" stroke-width="0.5"/>
<circle cx="186.18" cy="325.7" r="2.65" fill="#0c0ce6" stroke="#0000a8" stroke-width="0.5"/>
<circle cx="191.76" cy="321.7" r="2.65" fill="#0c0ce6" stroke="#0000a8" stroke-width="0.5"/>
<circle cx="197.34" cy="317.2" r="2.65" fill="#0c0ce6" stroke="#0000a8" stroke-width="0.5"/>
<circle cx="202.92" cy="313.5" r="2.65" fill="#0c0ce6" stroke="#0000a8" stroke-width="0.5"/>
<circle cx="208.50" cy="309.7" r="2.65" fill="#0c0ce6" stroke="#0000a8" stroke-width="0.5"/>
<circle cx="214.08" cy="305.3" r="2.65" fill="#0c0ce6" stroke="#0000a8" stroke-width="0.5"/>
<circle cx="219.66" cy="301.5" r="2.65" fill="#0c0ce6" stroke="#0000a8" stroke-width="0.5"/>
<circle cx="225.24" cy="297.6" r="2.65" fill="#0c0ce6" stroke="#0000a8" stroke-width="0.5"/>
<circle cx="230.82" cy="293.6" r="2.65" fill="#0c0ce6" stroke="#0000a8" stroke-width="0.5"/>
<circle cx="236.40" cy="290.3" r="2.65" fill="#0c0ce6" stroke="#0000a8" stroke-width="0.5"/>
<rect x="66.70" y="274.59999999999997" width="4.6" height="4.6" fill="#f00a0a"/>
<rect x="72.28" y="280.59999999999997" width="4.6" height="4.6" fill="#f00a0a"/>
<rect x="77.86" y="285.4" width="4.6" height="4.6" fill="#f00a0a"/>
<rect x="83.44" y="289.7" width="4.6" height="4.6" fill="#f00a0a"/>
<rect x="89.02" y="293.9" width="4.6" height="4.6" fill="#f00a0a"/>
<rect x="94.60" y="297.3" width="4.6" height="4.6" fill="#f00a0a"/>
<rect x="100.18" y="300.4" width="4.6" height="4.6" fill="#f00a0a"/>
<rect x="105.76" y="303.4" width="4.6" height="4.6" fill="#f00a0a"/>
<rect x="111.34" y="305.59999999999997" width="4.6" height="4.6" fill="#f00a0a"/>
<rect x="116.92" y="307.8" width="4.6" height="4.6" fill="#f00a0a"/>
<rect x="122.50" y="309.9" width="4.6" height="4.6" fill="#f00a0a"/>
<rect x="128.08" y="311.5" width="4.6" height="4.6" fill="#f00a0a"/>
<rect x="133.66" y="312.5" width="4.6" height="4.6" fill="#f00a0a"/>
<rect x="139.24" y="313.4" width="4.6" height="4.6" fill="#f00a0a"/>
<rect x="144.82" y="313.9" width="4.6" height="4.6" fill="#f00a0a"/>
<rect x="150.40" y="314.2" width="4.6" height="4.6" fill="#f00a0a"/>
<rect x="155.98" y="314.2" width="4.6" height="4.6" fill="#f00a0a"/>
<rect x="161.56" y="313.9" width="4.6" height="4.6" fill="#f00a0a"/>
<rect x="167.14" y="313.4" width="4.6" height="4.6" fill="#f00a0a"/>
<rect x="172.72" y="313.0" width="4.6" height="4.6" fill="#f00a0a"/>
<rect x="178.30" y="293.2" width="4.6" height="4.6" fill="#f00a0a"/>
<rect x="183.88" y="290.9" width="4.6" height="4.6" fill="#f00a0a"/>
<rect x="189.46" y="287.0" width="4.6" height="4.6" fill="#f00a0a"/>
<rect x="195.04" y="282.7" width="4.6" height="4.6" fill="#f00a0a"/>
<rect x="200.62" y="279.3" width="4.6" height="4.6" fill="#f00a0a"/>
<rect x="206.20" y="274.9" width="4.6" height="4.6" fill="#f00a0a"/>
<rect x="211.78" y="270.5" width="4.6" height="4.6" fill="#f00a0a"/>
<rect x="217.36" y="268.09999999999997" width="4.6" height="4.6" fill="#f00a0a"/>
<rect x="222.94" y="263.59999999999997" width="4.6" height="4.6" fill="#f00a0a"/>
<rect x="228.52" y="259.9" width="4.6" height="4.6" fill="#f00a0a"/>
<rect x="234.10" y="256.09999999999997" width="4.6" height="4.6" fill="#f00a0a"/>
<path d="M82.44,251 L88.24,247.8 L88.24,254.2Z" fill="#000"/>
<path d="M88.02,255.3 L93.82,252.10000000000002 L93.82,258.5Z" fill="#000"/>
<path d="M93.60,260 L99.40,256.8 L99.40,263.2Z" fill="#000"/>
<path d="M99.18,264.9 L104.98,261.7 L104.98,268.09999999999997Z" fill="#000"/>
<path d="M104.76,269.9 L110.56,266.7 L110.56,273.09999999999997Z" fill="#000"/>
<path d="M110.34,275 L116.14,271.8 L116.14,278.2Z" fill="#000"/>
<path d="M115.92,279.6 L121.72,276.40000000000003 L121.72,282.8Z" fill="#000"/>
<path d="M121.50,283.8 L127.30,280.6 L127.30,287.0Z" fill="#000"/>
<path d="M127.08,287.4 L132.88,284.2 L132.88,290.59999999999997Z" fill="#000"/>
<path d="M132.66,290 L138.46,286.8 L138.46,293.2Z" fill="#000"/>
<path d="M138.24,292.5 L144.04,289.3 L144.04,295.7Z" fill="#000"/>
<path d="M143.82,294.7 L149.62,291.5 L149.62,297.9Z" fill="#000"/>
<path d="M149.40,296.0 L155.20,292.8 L155.20,299.2Z" fill="#000"/>
<path d="M154.98,296.5 L160.78,293.3 L160.78,299.7Z" fill="#000"/>
<path d="M160.56,297.1 L166.36,293.90000000000003 L166.36,300.3Z" fill="#000"/>
<path d="M166.14,297.6 L171.94,294.40000000000003 L171.94,300.8Z" fill="#000"/>
<path d="M171.72,283.1 L177.52,279.90000000000003 L177.52,286.3Z" fill="#000"/>
<path d="M177.30,280.6 L183.10,277.40000000000003 L183.10,283.8Z" fill="#000"/>
<path d="M182.88,276.9 L188.68,273.7 L188.68,280.09999999999997Z" fill="#000"/>
<path d="M188.46,273.7 L194.26,270.5 L194.26,276.9Z" fill="#000"/>
<path d="M194.04,270.3 L199.84,267.1 L199.84,273.5Z" fill="#000"/>
<path d="M199.62,266.6 L205.42,263.40000000000003 L205.42,269.8Z" fill="#000"/>
<path d="M205.20,263.3 L211.00,260.1 L211.00,266.5Z" fill="#000"/>
<path d="M210.78,259.9 L216.58,256.7 L216.58,263.09999999999997Z" fill="#000"/>
<path d="M216.36,255.5 L222.16,252.3 L222.16,258.7Z" fill="#000"/>
<path d="M221.94,251.5 L227.74,248.3 L227.74,254.7Z" fill="#000"/>
<path d="M227.52,247.6 L233.32,244.4 L233.32,250.79999999999998Z" fill="#000"/>
<path d="M233.10,243.7 L238.90,240.5 L238.90,246.89999999999998Z" fill="#000"/>
<rect x="326.5" y="24.0" width="348.5" height="275.0" fill="none" stroke="#444" stroke-width="1.3"/>
<line x1="326.50" y1="299.0" x2="326.50" y2="295.0" stroke="#444" stroke-width="1"/>
<text x="322.05" y="318.00" font-size="16">0</text>
<line x1="442.67" y1="299.0" x2="442.67" y2="295.0" stroke="#444" stroke-width="1"/>
<text x="438.22" y="318.00" font-size="16">5</text>
<line x1="558.83" y1="299.0" x2="558.83" y2="295.0" stroke="#444" stroke-width="1"/>
<path d="M556.90,318.00L555.49,318.00L555.49,309.04C555.16,309.36 554.71,309.70 554.15,310.02C553.59,310.35 553.09,310.59 552.68,310.75L552.68,309.39C553.45,309.04 554.12,308.61 554.69,308.11C555.27,307.60 555.69,307.09 555.93,306.54L556.90,306.54Z" fill="#111" stroke="#111" stroke-width="0.2"/>
<text x="559.83" y="318.00" font-size="16">0</text>
<line x1="675.00" y1="299.0" x2="675.00" y2="295.0" stroke="#444" stroke-width="1"/>
<path d="M672.87,318.00L671.46,318.00L671.46,309.04C671.13,309.36 670.68,309.70 670.12,310.02C669.56,310.35 669.06,310.59 668.65,310.75L668.65,309.39C669.41,309.04 670.09,308.61 670.66,308.11C671.24,307.60 671.65,307.09 671.89,306.54L672.87,306.54Z" fill="#111" stroke="#111" stroke-width="0.2"/>
<text x="675.80" y="318.00" font-size="16">5</text>
<line x1="326.5" y1="299.00" x2="330.5" y2="299.00" stroke="#444" stroke-width="1"/>
<text x="311.60" y="304.70" font-size="16">0</text>
<line x1="326.5" y1="230.25" x2="330.5" y2="230.25" stroke="#444" stroke-width="1"/>
<text x="302.70" y="235.95" font-size="16">2</text>
<text x="311.60" y="235.95" font-size="16">5</text>
<line x1="326.5" y1="161.50" x2="330.5" y2="161.50" stroke="#444" stroke-width="1"/>
<text x="302.70" y="167.20" font-size="16">5</text>
<text x="311.60" y="167.20" font-size="16">0</text>
<line x1="326.5" y1="92.75" x2="330.5" y2="92.75" stroke="#444" stroke-width="1"/>
<text x="302.70" y="98.45" font-size="16">7</text>
<text x="311.60" y="98.45" font-size="16">5</text>
<line x1="326.5" y1="24.00" x2="330.5" y2="24.00" stroke="#444" stroke-width="1"/>
<path d="M299.77,29.70L298.36,29.70L298.36,20.74C298.03,21.06 297.58,21.40 297.02,21.72C296.46,22.05 295.96,22.29 295.55,22.45L295.55,21.09C296.32,20.74 296.99,20.31 297.56,19.81C298.14,19.30 298.56,18.79 298.80,18.24L299.77,18.24Z" fill="#111" stroke="#111" stroke-width="0.2"/>
<text x="302.70" y="29.70" font-size="16">0</text>
<text x="311.60" y="29.70" font-size="16">0</text>
<text x="273" y="18.6" font-size="21" font-weight="bold">c</text>
<text transform="translate(289,188) rotate(-90)" font-size="16" letter-spacing="0.2"><tspan font-family='"Liberation Serif", serif' font-style="italic">σ</tspan><tspan font-size="12" dx="1" dy="3">C</tspan><tspan dy="-3"> (Pa)</tspan></text>
<text x="447.6" y="341.5" font-size="16" font-style="italic" font-family='"Liberation Sans", sans-serif' letter-spacing="0.4">F</text>
<text x="456.9" y="333.2" font-size="11.5" font-style="italic" font-family='"Liberation Sans", sans-serif' letter-spacing="0.4">C</text>
<text x="456.9" y="344.6" font-size="11.5" font-style="italic" font-family='"Liberation Sans", sans-serif' letter-spacing="0.4">N</text>
<text x="466.3" y="341.5" font-size="16" font-style="normal" font-family='"Liberation Sans", sans-serif' letter-spacing="0.4">/</text>
<text x="470.8" y="341.5" font-size="16" font-style="normal" font-family='"Liberation Sans", sans-serif' letter-spacing="0.4">(</text>
<text x="476.3" y="341.5" font-size="19" font-style="normal" font-family='"Liberation Serif", serif' letter-spacing="0.4">π</text>
<text x="487.4" y="341.5" font-size="16.5" font-style="italic" font-family='"Liberation Sans", sans-serif' letter-spacing="0.4">R</text>
<text x="500.6" y="333.4" font-size="11.5" font-style="normal" font-family='"Liberation Sans", sans-serif' letter-spacing="0.4">2</text>
<text x="508.6" y="341.5" font-size="16" font-style="normal" font-family='"Liberation Sans", sans-serif' letter-spacing="0.4">)</text>
<text x="517.8" y="341.5" font-size="16" font-style="normal" font-family='"Liberation Sans", sans-serif' letter-spacing="0.4">(kPa)</text>
<line x1="326.5" y1="298.6" x2="675" y2="38.8" stroke="#d81e28" stroke-width="1.7" stroke-dasharray="5,4.655" stroke-dashoffset="0.4"/>
<line x1="326.5" y1="298.8" x2="373" y2="176.5" stroke="#1c1cc8" stroke-width="1.7" stroke-dasharray="4.8,4.1" stroke-dashoffset="3.04"/>
<line x1="447" y1="197" x2="468" y2="197" stroke="#f01010" stroke-width="2.5"/>
<line x1="457.4" y1="182" x2="457.4" y2="212" stroke="#f01010" stroke-width="2.5"/>
<circle cx="457.4" cy="197" r="5.4" fill="#f01010" stroke="#000" stroke-width="1.5"/>
<line x1="581" y1="92.2" x2="637.3" y2="92.2" stroke="#f01010" stroke-width="2.5"/>
<line x1="609.2" y1="78.5" x2="609.2" y2="107.3" stroke="#f01010" stroke-width="2.5"/>
<line x1="606.4" y1="78.5" x2="612" y2="78.5" stroke="#f01010" stroke-width="2.5"/>
<line x1="606.4" y1="107.3" x2="612" y2="107.3" stroke="#f01010" stroke-width="2.5"/>
<path d="M609,86.6 L615,97 L603,97Z" fill="#f01010" stroke="#000" stroke-width="1.5"/>
<rect x="354.2" y="271.3" width="11.5" height="11" fill="#f01010" stroke="#000" stroke-width="1.5"/>
<rect x="326.8" y="285.3" width="8" height="8.8" fill="#1414e0" stroke="#200" stroke-width="0.8"/>
<circle cx="351" cy="41" r="9" fill="#fc0000"/>
<circle cx="351" cy="63" r="9" fill="#0800f8"/>
<text x="368.5" y="47.2" font-size="16" letter-spacing="0.47">PVC + plasticizer and mineral oil</text>
<text x="368.5" y="69" font-size="16" letter-spacing="0.47">Cornstarch + water</text>
</svg>
</body></html>
